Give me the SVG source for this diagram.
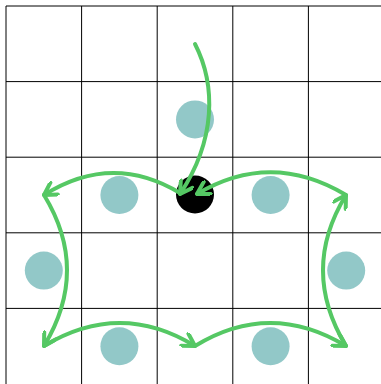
<svg xmlns="http://www.w3.org/2000/svg" width="381" height="384" viewBox="0 0 381 384">
<defs>
<style>
.grid line{stroke:#000;stroke-width:1}
.stone{fill:#92c8c8}
.black{fill:#000}
.conn path{fill:none;stroke:#55c864;stroke-width:4;stroke-linecap:round;marker-end:url(#arr)}
.conn path.plain{marker-end:none}
</style>
<marker id="arr" viewBox="-14 -8 16 16" markerWidth="16" markerHeight="16" refX="0" refY="0" orient="auto" markerUnits="userSpaceOnUse">
<path d="M-12,-7 L0,0 L-12,7" fill="none" stroke="#55c864" stroke-width="4" stroke-linecap="round" stroke-linejoin="round"/>
</marker>
</defs>
<rect width="381" height="384" fill="#fff"/>
<g class="grid">
<line x1="6" y1="6" x2="384" y2="6"/>
<line x1="6" y1="81.6" x2="384" y2="81.6"/>
<line x1="6" y1="157.2" x2="384" y2="157.2"/>
<line x1="6" y1="232.8" x2="384" y2="232.8"/>
<line x1="6" y1="308.4" x2="384" y2="308.4"/>
<line x1="6" y1="6" x2="6" y2="384"/>
<line x1="81.6" y1="6" x2="81.6" y2="384"/>
<line x1="157.2" y1="6" x2="157.2" y2="384"/>
<line x1="232.8" y1="6" x2="232.8" y2="384"/>
<line x1="308.4" y1="6" x2="308.4" y2="384"/>
</g>
<g id="s1"><circle class="stone" cx="195" cy="119.4" r="19"/></g>
<g id="s2"><circle class="stone" cx="119.4" cy="195" r="19"/></g>
<g id="s3"><circle class="stone" cx="270.6" cy="195" r="19"/></g>
<g id="s4"><circle class="stone" cx="43.8" cy="270.6" r="19"/></g>
<g id="s5"><circle class="stone" cx="346.2" cy="270.6" r="19"/></g>
<g id="s6"><circle class="stone" cx="119.4" cy="346.2" r="19"/></g>
<g id="s7"><circle class="stone" cx="270.6" cy="346.2" r="19"/></g>
<g id="center"><circle class="black" cx="195" cy="194.5" r="19"/></g>
<g class="conn">
<path d="M195,44 C216,85 216,140 180,194"/>
<path d="M180,193 Q112,152 44,195"/>
<path d="M44,195 Q90,270 44,346"/>
<path d="M44,346 Q120,300 195,346"/>
<path d="M195,346 Q270,300 346,346"/>
<path d="M346,346 Q300,270 346,195"/>
<path d="M346,195 Q271,150 197,194"/>
</g>
</svg>
